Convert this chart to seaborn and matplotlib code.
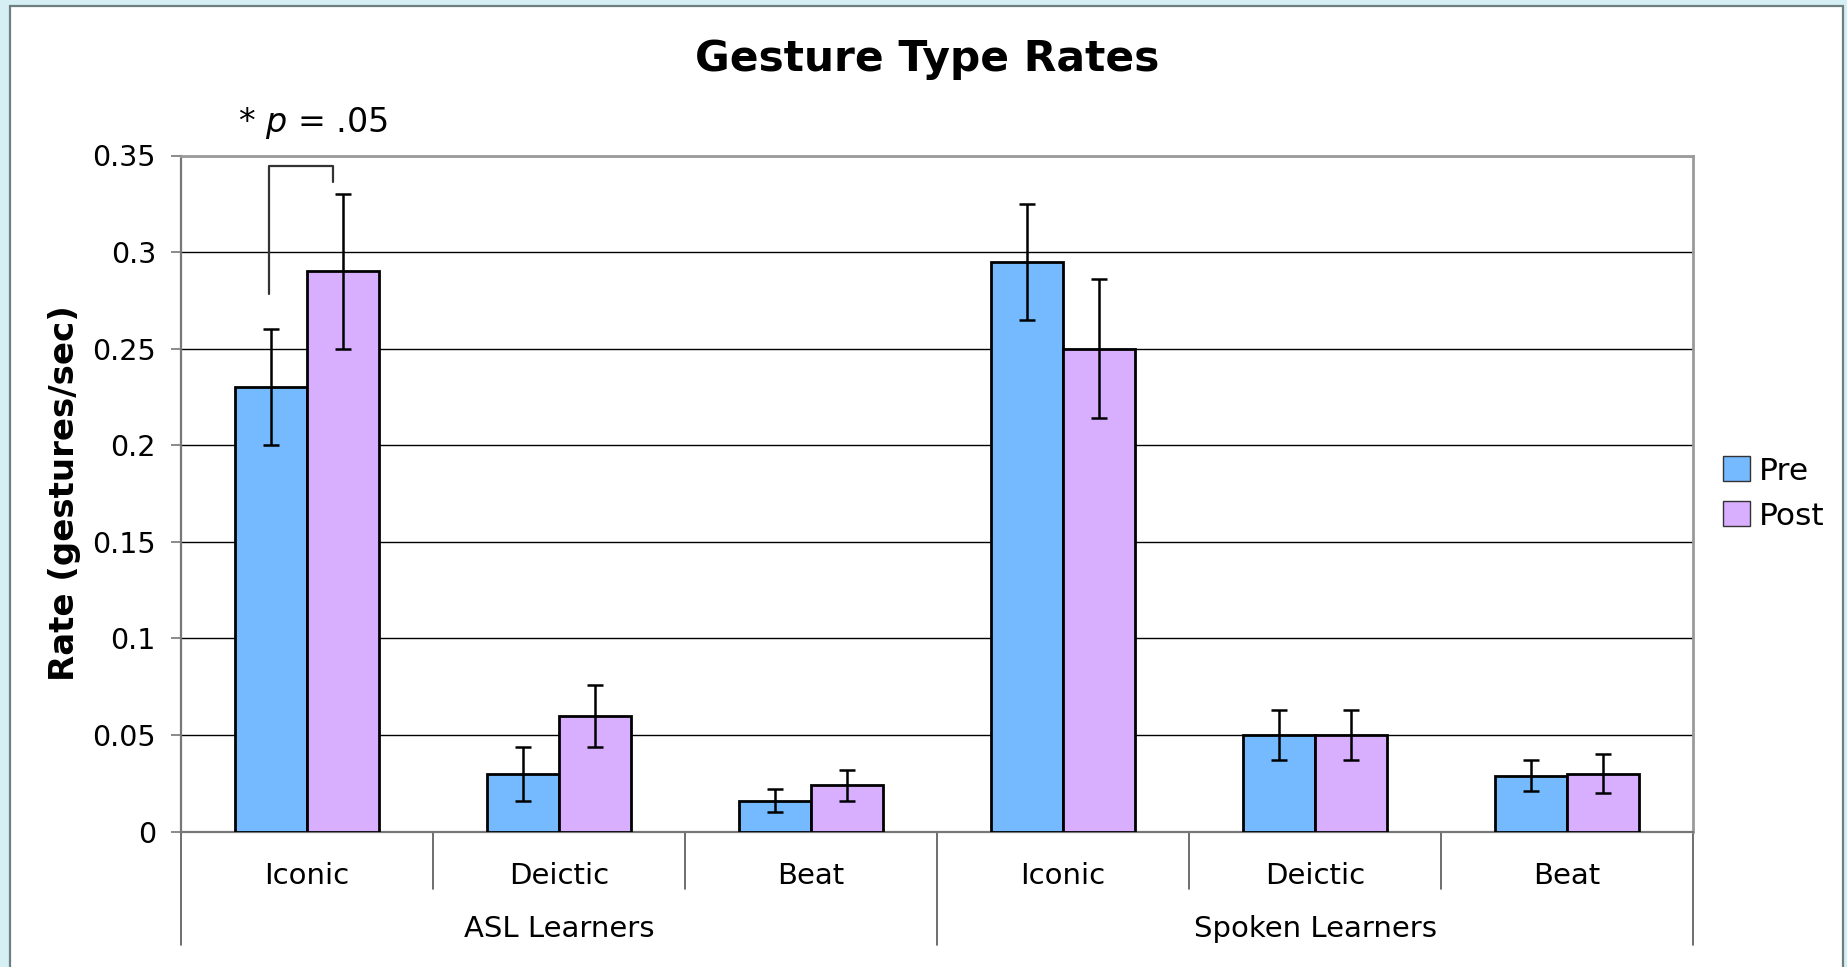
import pandas as pd
import matplotlib.pyplot as plt
import matplotlib.ticker as mticker
import matplotlib.transforms as mtransforms
from matplotlib.patches import FancyBboxPatch
import seaborn as sns

# data
groups        = ["ASL Learners", "Spoken Learners"]
gesture_types = ["Iconic", "Deictic", "Beat"]
phases        = ["Pre", "Post"]

pre_rate  = [0.230, 0.030, 0.016, 0.295, 0.050, 0.029]
post_rate = [0.290, 0.060, 0.024, 0.250, 0.050, 0.030]
pre_err   = [0.030, 0.014, 0.006, 0.030, 0.013, 0.008]
post_err  = [0.040, 0.016, 0.008, 0.036, 0.013, 0.010]

y_ticks = [0, 0.05, 0.1, 0.15, 0.2, 0.25, 0.3, 0.35]

PRE_COLOR  = "#75b9ff"
POST_COLOR = "#d8aeff"

sns.set_theme(style="white")
plt.rcParams["font.family"] = ["DejaVu Sans"]
plt.rcParams["mathtext.fontset"] = "dejavusans"
for key in ["text.color", "axes.labelcolor", "xtick.labelcolor", "ytick.labelcolor"]:
    plt.rcParams[key] = "black"

slots = [f"{g}|{t}" for g in groups for t in gesture_types]
df = pd.DataFrame({
    "slot":  slots * 2,
    "phase": ["Pre"] * 6 + ["Post"] * 6,
    "rate":  pre_rate + post_rate,
})

fig = plt.figure(figsize=(18.47, 9.67), dpi=100)
fig.patch.set_facecolor("#d6eff5")
panel = FancyBboxPatch((10 / 1847, -0.05), (1843 - 10) / 1847, 1.05 - 6 / 967,
                       boxstyle="square,pad=0", transform=fig.transFigure,
                       facecolor="white", edgecolor="#6e7f80", linewidth=1.6,
                       zorder=-10)
fig.patches.append(panel)

ax = fig.add_axes([181 / 1847, 1 - 831.6 / 967, (1693 - 181) / 1847, (831.6 - 155.5) / 967])
ax.set_facecolor("white")

sns.barplot(data=df, x="slot", y="rate", hue="phase", order=slots, hue_order=phases,
            palette=[PRE_COLOR, POST_COLOR], width=0.57, gap=0, errorbar=None,
            edgecolor="black", linewidth=2, saturation=1, ax=ax, zorder=3)

# error bars at the bar tops
for cont, errs in zip(ax.containers, [pre_err, post_err]):
    xs = [p.get_x() + p.get_width() / 2 for p in cont.patches]
    ys = [p.get_height() for p in cont.patches]
    ax.errorbar(xs, ys, yerr=errs, fmt="none", ecolor="black",
                elinewidth=1.8, capsize=6, capthick=1.8, zorder=4)

ax.set_xlim(-0.5, 5.5)
ax.set_ylim(0, 0.35)
ax.set_yticks(y_ticks)
ax.yaxis.set_major_formatter(mticker.FuncFormatter(lambda v, _: f"{v:g}"))
ax.yaxis.grid(True, color="black", linewidth=1)
ax.set_axisbelow(True)
ax.tick_params(axis="y", left=True, length=7, width=1.2, color="#777777",
               pad=11, labelsize=20.5, labelcolor="black")

ax.set_xticks(range(6))
ax.set_xticklabels(gesture_types * 2, fontsize=21)
ax.tick_params(axis="x", bottom=False, length=0, pad=22, labelcolor="black")
ax.set_xlabel("")

for side in ["left", "bottom"]:
    ax.spines[side].set_color("#777777")
    ax.spines[side].set_linewidth(1.6)
for side in ["top", "right"]:
    ax.spines[side].set_color("#9a9a9a")
    ax.spines[side].set_linewidth(2)

# category dividers below the axis
trans = mtransforms.blended_transform_factory(ax.transData, ax.transAxes)
for x in [0.5, 1.5, 3.5, 4.5]:
    ax.plot([x, x], [0, -0.0855], transform=trans, color="#555555", lw=1.2, clip_on=False)
for x in [-0.5, 2.5, 5.5]:
    ax.plot([x, x], [0, -0.1675], transform=trans, color="#555555", lw=1.2, clip_on=False)
for i, g in enumerate(groups):
    ax.text(1 + 3 * i, -0.144, g, transform=trans, ha="center", va="center",
            fontsize=21, color="black")

ax.set_ylabel("Rate (gestures/sec)", fontsize=24.5, fontweight="bold", color="black")
ax.yaxis.set_label_coords(-0.066, 0.5)

# significance bracket
ax.plot([-0.149, -0.149, 0.105, 0.105], [0.2783, 0.3446, 0.3446, 0.3361],
        color="#333333", lw=1.6, clip_on=False, zorder=5)
ax.text(0.024, 0.367, "* $p$ = .05", ha="center", va="center", fontsize=24,
        color="black", clip_on=False)

fig.suptitle("Gesture Type Rates", x=0.502, y=1 - 59 / 967, va="center",
             fontsize=30.5, fontweight="bold", color="black")

handles, labels = ax.get_legend_handles_labels()
ax.legend(handles, labels, loc="center left", bbox_to_anchor=(1723 / 1847, 1 - 493.5 / 967),
          bbox_transform=fig.transFigure, frameon=False, fontsize=22.5,
          handlelength=0.85, handleheight=0.85, handletextpad=0.3,
          labelspacing=0.5, borderpad=0, borderaxespad=0, labelcolor="black")
for h in ax.get_legend().legend_handles:
    h.set_linewidth(1)
    h.set_edgecolor("#333333")

fig.savefig("out.png", dpi=100, facecolor=fig.get_facecolor())
